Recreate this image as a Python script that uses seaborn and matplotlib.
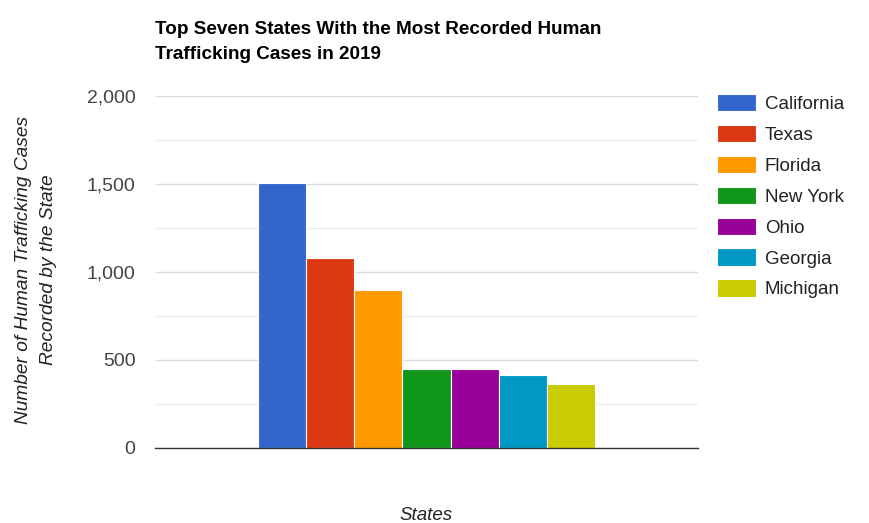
import pandas as pd
import matplotlib
matplotlib.use("Agg")
import matplotlib.pyplot as plt
import seaborn as sns
from matplotlib.ticker import MultipleLocator, FuncFormatter

# ------------------------------
# Data
# ------------------------------
states = ["California", "Texas", "Florida", "New York", "Ohio", "Georgia", "Michigan"]
cases = [1507, 1082, 899, 449, 449, 416, 366]
colors = ["#3366cc", "#dc3912", "#ff9900", "#109618", "#990099", "#0099c6", "#c8cc00"]

df = pd.DataFrame({"group": [""] * len(states), "state": states, "cases": cases})

# ------------------------------
# Plot
# ------------------------------
sns.set_theme(style="white")
plt.rcParams["font.family"] = ["Liberation Sans", "DejaVu Sans"]

fig = plt.figure(figsize=(8.69, 5.23), dpi=100)
ax = fig.add_axes([155 / 869, 1 - 448 / 523, 543 / 869, 352 / 523])

sns.barplot(data=df, x="group", y="cases", hue="state", hue_order=states,
            palette=colors, width=0.8, edgecolor="white", linewidth=0.8,
            saturation=1, ax=ax, legend=True)

ax.set_xlim(-0.6464, 0.6464)
ax.set_ylim(0, 2000)
ax.yaxis.set_major_locator(MultipleLocator(500))
ax.yaxis.set_minor_locator(MultipleLocator(250))
ax.yaxis.set_major_formatter(FuncFormatter(lambda v, p: f"{int(v):,}"))
ax.grid(which="major", axis="y", color="#dddddd", linewidth=1)
ax.grid(which="minor", axis="y", color="#efefef", linewidth=1)
ax.set_axisbelow(True)
ax.tick_params(axis="y", which="both", length=0, pad=14, labelsize=14, labelcolor="#444444")
ax.set_xticks([])
for s in ["top", "right", "left"]:
    ax.spines[s].set_visible(False)
ax.spines["bottom"].set_color("#333333")
ax.spines["bottom"].set_linewidth(1)

ax.set_xlabel("")
ax.set_ylabel("")
fig.text(426 / 869, 1 - 515 / 523, "States", fontsize=13.5, style="italic",
         color="#222222", ha="center", va="center")
fig.text(36 / 869, 1 - 270 / 523, "Number of Human Trafficking Cases\nRecorded by the State",
         fontsize=13.8, style="italic", color="#222222", rotation=90,
         ha="center", va="center", multialignment="center", linespacing=1.55)

fig.text(155 / 869, 1 - 21 / 523, "Top Seven States With the Most Recorded Human\nTrafficking Cases in 2019",
         fontsize=13.6, fontweight="bold", color="#000000", ha="left", va="top", linespacing=1.65)

handles, labels = ax.get_legend_handles_labels()
ax.legend(handles, labels, loc="upper left", bbox_to_anchor=(700 / 869, 1 - 77 / 523),
          bbox_transform=fig.transFigure, frameon=False, fontsize=13.5,
          handlelength=2.1, handleheight=1.05, labelspacing=0.63, handletextpad=0.45,
          labelcolor="#222222")

fig.savefig("out.png", dpi=100, facecolor="white")
